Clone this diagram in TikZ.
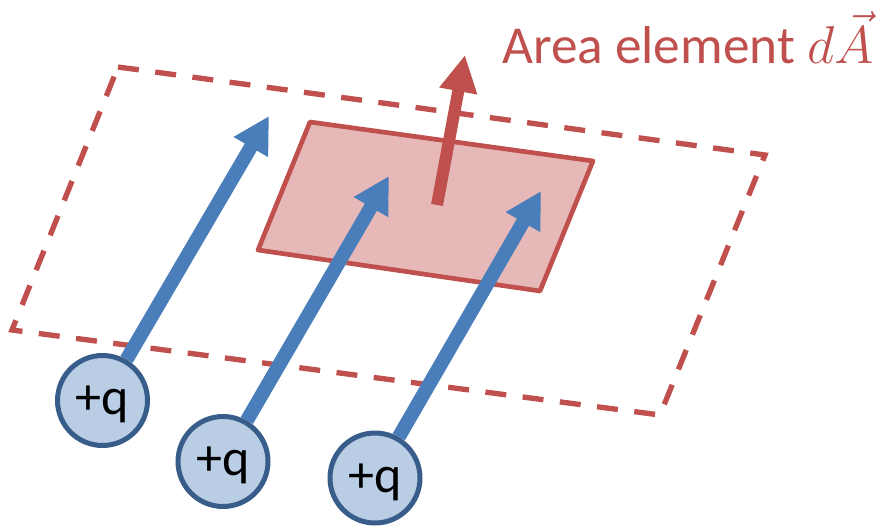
\RequirePackage{fix-cm}
\documentclass[tikz,border=0pt]{standalone}
\usepackage{fontspec}
\setmainfont{Carlito}
\usetikzlibrary{arrows.meta,backgrounds}
\definecolor{accred}{HTML}{C0504D}
\definecolor{pinkfill}{HTML}{E6B9B8}
\definecolor{arrowblue}{HTML}{4A7EBB}
\definecolor{qfill}{HTML}{B9CDE5}
\definecolor{qborder}{HTML}{385D8A}
\tikzset{
  dashbox/.style={draw=accred, line width=4pt, dash pattern=on 15.75pt off 12.4pt},
  areabox/.style={draw=accred, fill=pinkfill, line width=3.5pt, line join=round},
  normalarrow/.style={draw=accred, line width=9pt, -{Triangle[length=27.5pt,width=27pt]}},
  fluxarrow/.style={draw=arrowblue, line width=10.5pt, -{Triangle[length=27pt,width=28pt]}},
  charge/.style={circle, draw=qborder, fill=qfill, line width=3.75pt, minimum size=67.5pt,
    inner sep=0pt, text height=21pt, text depth=0pt, font=\fontsize{39}{40}\selectfont},
  arealabel/.style={text=accred, anchor=base west, inner sep=0pt, font=\fontsize{40}{48}\selectfont}
}
\begin{document}
\begin{tikzpicture}[x=0.75pt,y=-0.75pt]
\useasboundingbox (0,0) rectangle (878,525);
% charges
\node[charge] (q1) at (102.5,400.5) {+q};
\node[charge] (q2) at (223,461.5) {+q};
\node[charge] (q3) at (375,478) {+q};
% arrow tips
\coordinate (t1) at (269,116);
\coordinate (t2) at (389,176);
\coordinate (t3) at (541,191);
\coordinate (r0) at (437,205);
\coordinate (r1) at (465,55);
% label
\node[arealabel] (lbl) at (502,63) {Area element $d\vec{A}$};
\begin{scope}[on background layer]
  \draw[dashbox] (118,67) -- (765,155) -- (660,415) -- (12,330) -- cycle;
  \draw[areabox] (310,122) -- (593,161) -- (540,291) -- (258,250) -- cycle;
  \draw[normalarrow] (r0) -- (r1);
  \draw[fluxarrow] (q1) -- (t1);
  \draw[fluxarrow] (q2) -- (t2);
  \draw[fluxarrow] (q3) -- (t3);
\end{scope}
\end{tikzpicture}
\end{document}
